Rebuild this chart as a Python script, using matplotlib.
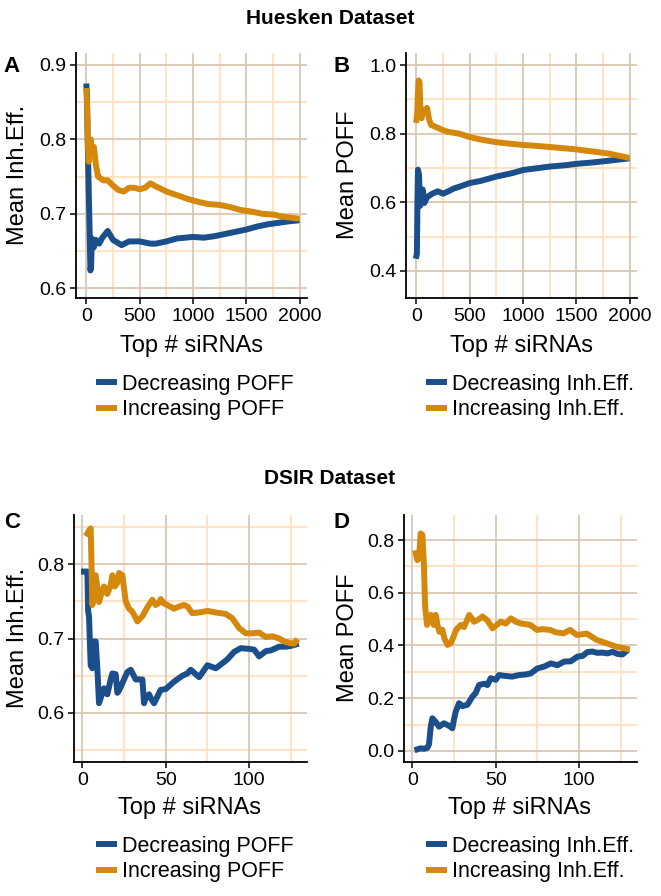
import numpy as np
import matplotlib.pyplot as plt

plt.rcParams['font.family'] = ['Liberation Sans', 'DejaVu Sans']

# cores
azul = '#1a4f8b'
laranja = '#d4880c'
grade_maior = '#d9c7b2'
grade_menor = '#ffe3c2'

# Painel A - Huesken, Mean Inh.Eff.
xa_dec = [1, 5, 15, 30, 38, 45, 50, 70, 90, 120, 150, 200, 250, 330, 400, 500, 600, 650, 750, 850,
          1000, 1100, 1200, 1300, 1400, 1500, 1600, 1700, 1800, 1900, 1968]
ya_dec = [0.871, 0.86, 0.78, 0.68, 0.624, 0.63, 0.667, 0.655, 0.665, 0.66, 0.668, 0.677, 0.665, 0.658,
          0.663, 0.663, 0.660, 0.660, 0.663, 0.667, 0.669, 0.668, 0.670, 0.673, 0.676, 0.679, 0.683,
          0.686, 0.688, 0.690, 0.691]
xa_inc = [1, 8, 15, 22, 30, 40, 55, 70, 90, 110, 130, 160, 200, 250, 300, 350, 400, 450, 500, 550,
          600, 650, 750, 850, 950, 1050, 1150, 1250, 1350, 1450, 1550, 1650, 1750, 1850, 1968]
ya_inc = [0.865, 0.84, 0.79, 0.77, 0.79, 0.80, 0.785, 0.79, 0.765, 0.75, 0.748, 0.745, 0.745, 0.738,
          0.732, 0.73, 0.735, 0.735, 0.733, 0.735, 0.741, 0.737, 0.73, 0.725, 0.72, 0.716, 0.713,
          0.712, 0.709, 0.705, 0.703, 0.700, 0.699, 0.696, 0.694]

# Painel B - Huesken, Mean POFF
xb_dec = [1, 5, 10, 15, 25, 35, 45, 60, 75, 100, 150, 200, 250, 300, 350, 400, 500, 600, 750, 900,
          1000, 1100, 1250, 1400, 1500, 1650, 1800, 1968]
yb_dec = [0.444, 0.45, 0.60, 0.695, 0.68, 0.59, 0.63, 0.637, 0.598, 0.615, 0.625, 0.632, 0.625, 0.632,
          0.64, 0.645, 0.656, 0.662, 0.675, 0.685, 0.694, 0.698, 0.704, 0.708, 0.712, 0.716, 0.721, 0.727]
xb_inc = [1, 8, 15, 22, 30, 40, 50, 60, 80, 100, 120, 140, 180, 250, 300, 400, 500, 600, 750, 900,
          1000, 1100, 1250, 1400, 1500, 1650, 1800, 1968]
yb_inc = [0.84, 0.86, 0.92, 0.955, 0.95, 0.85, 0.845, 0.87, 0.86, 0.875, 0.84, 0.825, 0.82, 0.81,
          0.805, 0.80, 0.79, 0.783, 0.775, 0.77, 0.767, 0.765, 0.761, 0.757, 0.754, 0.748, 0.742, 0.731]

# Painel C - DSIR, Mean Inh.Eff.
xc_dec = [1, 2, 3, 3.5, 4, 5, 6, 7, 8, 9, 10, 11, 13, 15, 17, 18, 20, 21, 22, 25, 27, 29, 32, 36,
          37, 38, 40, 41, 43, 45, 47, 50, 55, 60, 63, 65, 70, 75, 80, 83, 87, 91, 95, 100, 103, 106,
          110, 113, 118, 122, 125, 128]
yc_dec = [0.79, 0.79, 0.79, 0.736, 0.73, 0.664, 0.66, 0.696, 0.696, 0.66, 0.613, 0.62, 0.633, 0.625,
          0.645, 0.653, 0.652, 0.627, 0.63, 0.645, 0.655, 0.658, 0.645, 0.645, 0.613, 0.62, 0.625,
          0.62, 0.613, 0.622, 0.631, 0.632, 0.642, 0.65, 0.653, 0.658, 0.648, 0.664, 0.66, 0.665,
          0.672, 0.682, 0.687, 0.686, 0.685, 0.676, 0.683, 0.684, 0.689, 0.689, 0.69, 0.692]
xc_inc = [3, 4, 5, 5.5, 6, 8, 10, 12, 13, 15, 17, 18, 19.5, 21, 22, 24, 26, 28, 30, 33, 36, 39, 42,
          44, 46, 47, 49, 51, 55, 58, 61, 63, 66, 70, 75, 80, 86, 90, 94, 98, 102, 106, 110, 114,
          118, 121, 124, 127, 128]
yc_inc = [0.841, 0.845, 0.848, 0.80, 0.745, 0.785, 0.749, 0.765, 0.77, 0.76, 0.772, 0.785, 0.77,
          0.775, 0.788, 0.785, 0.75, 0.74, 0.736, 0.723, 0.73, 0.742, 0.752, 0.745, 0.748, 0.753,
          0.747, 0.745, 0.74, 0.743, 0.745, 0.743, 0.734, 0.735, 0.737, 0.735, 0.733, 0.727, 0.714,
          0.707, 0.707, 0.708, 0.702, 0.703, 0.700, 0.696, 0.694, 0.693, 0.696]

# Painel D - DSIR, Mean POFF
xd_dec = [3, 5, 7, 9, 10, 11, 12, 14, 16, 19, 22, 24, 25, 26, 28, 30, 33, 36, 38, 40, 43, 45, 47,
          50, 52, 55, 58, 60, 64, 68, 71, 75, 79, 83, 87, 91, 95, 99, 102, 105, 108, 111, 114, 117,
          120, 123, 126, 128]
yd_dec = [0.006, 0.01, 0.008, 0.012, 0.025, 0.09, 0.124, 0.11, 0.092, 0.105, 0.095, 0.086, 0.12,
          0.149, 0.181, 0.17, 0.175, 0.206, 0.22, 0.25, 0.255, 0.25, 0.276, 0.27, 0.288, 0.285,
          0.283, 0.282, 0.288, 0.29, 0.294, 0.313, 0.32, 0.332, 0.325, 0.339, 0.34, 0.358, 0.36,
          0.375, 0.377, 0.372, 0.373, 0.37, 0.376, 0.368, 0.366, 0.377]
xd_inc = [2, 3, 4, 5, 6, 7, 7.6, 8.8, 10, 11.2, 12.8, 14, 15, 16.2, 18, 19.2, 21.1, 23.2, 24.5, 26.2,
          29.1, 31, 34.1, 37, 40, 42.1, 45, 48.1, 51, 53, 56, 59.1, 62, 64.7, 70.7, 74.7, 78, 82.6,
          86, 90.6, 94.6, 98.6, 104.6, 110.6, 116.6, 122.6, 128.6]
yd_inc = [0.75, 0.724, 0.73, 0.825, 0.82, 0.70, 0.554, 0.478, 0.50, 0.516, 0.478, 0.516, 0.48, 0.452,
          0.46, 0.427, 0.402, 0.41, 0.43, 0.459, 0.478, 0.47, 0.516, 0.49, 0.50, 0.51, 0.495, 0.465,
          0.48, 0.49, 0.483, 0.503, 0.49, 0.484, 0.478, 0.459, 0.462, 0.459, 0.45, 0.446, 0.459,
          0.44, 0.445, 0.421, 0.408, 0.395, 0.387]

W, H = 661, 896
fig = plt.figure(figsize=(W / 100, H / 100), dpi=100)


def eixo(l, t, r, b):
    return fig.add_axes([l / W, 1 - b / H, (r - l) / W, (b - t) / H])


def painel(ax, xs, ys, xlim, ylim, yticks, yminor, xticks, xminor, xlabels):
    for v in xminor:
        ax.axvline(v, color=grade_menor, lw=1.5, zorder=0)
    for v in yminor:
        ax.axhline(v, color=grade_menor, lw=1.5, zorder=0)
    for v in xticks:
        ax.axvline(v, color=grade_maior, lw=1.3, zorder=0.5)
    for v in yticks:
        ax.axhline(v, color=grade_maior, lw=1.3, zorder=0.5)
    l1, = ax.plot(xs[0], ys[0], color=azul, lw=4.3, solid_joinstyle='round', zorder=2)
    l2, = ax.plot(xs[1], ys[1], color=laranja, lw=4.3, solid_joinstyle='round', zorder=3)
    ax.set_xlim(*xlim)
    ax.set_ylim(*ylim)
    ax.set_xticks(xticks)
    ax.set_xticklabels(xlabels)
    ax.set_yticks(yticks)
    ax.set_yticklabels(['%.1f' % v for v in yticks])
    for s in ['top', 'right']:
        ax.spines[s].set_visible(False)
    for s in ['left', 'bottom']:
        ax.spines[s].set_linewidth(1.3)
    ax.tick_params(labelsize=14, length=4, width=1.1, colors='black', pad=3)
    return l1, l2


axA = eixo(76, 53, 307, 298)
axB = eixo(406, 53, 637, 298)
axC = eixo(74, 515, 307, 762)
axD = eixo(404, 515, 637, 762)

hA = painel(axA, [xa_dec, xa_inc], [ya_dec, ya_inc], (-97, 2067), (0.587, 0.916),
            [0.6, 0.7, 0.8, 0.9], [0.65, 0.75, 0.85], [0, 500, 1000, 1500, 2000],
            [250, 750, 1250, 1750], ['0', '500', '1000', '1500', '2000'])
hB = painel(axB, [xb_dec, xb_inc], [yb_dec, yb_inc], (-97, 2067), (0.321, 1.035),
            [0.4, 0.6, 0.8, 1.0], [0.5, 0.7, 0.9], [0, 500, 1000, 1500, 2000],
            [250, 750, 1250, 1750], ['0', '500', '1000', '1500', '2000'])
hC = painel(axC, [xc_dec, xc_inc], [yc_dec, yc_inc], (-5, 134.7), (0.534, 0.866),
            [0.6, 0.7, 0.8], [0.55, 0.65, 0.75, 0.85], [0, 50, 100],
            [25, 75, 125], ['0', '50', '100'])
hD = painel(axD, [xd_dec, xd_inc], [yd_dec, yd_inc], (-5, 134.7), (-0.042, 0.895),
            [0.0, 0.2, 0.4, 0.6, 0.8], [0.1, 0.3, 0.5, 0.7], [0, 50, 100],
            [25, 75, 125], ['0', '50', '100'])

# titulos
fig.text(330 / W, 1 - 18 / H, 'Huesken Dataset', fontsize=15, fontweight='bold',
         ha='center', va='center')
fig.text(330 / W, 1 - 478 / H, 'DSIR Dataset', fontsize=15, fontweight='bold',
         ha='center', va='center')

for letra, x, y in [('A', 12, 66), ('B', 342, 66), ('C', 12, 522), ('D', 342, 522)]:
    fig.text(x / W, 1 - y / H, letra, fontsize=16, fontweight='bold', ha='center', va='center')

ylabels = [('Mean Inh.Eff.', 18, 175), ('Mean POFF', 348, 175),
           ('Mean Inh.Eff.', 18, 638), ('Mean POFF', 348, 638)]
for txt, x, y in ylabels:
    fig.text(x / W, 1 - y / H, txt, fontsize=17, rotation=90, ha='center', va='center')

for x, y in [(191, 346), (521, 346), (190, 808), (520, 808)]:
    fig.text(x / W, 1 - y / H, 'Top # siRNAs', fontsize=17, ha='center', va='center')

legendas = [(axA, hA, ['Decreasing POFF', 'Increasing POFF'], 99, 374),
            (axB, hB, ['Decreasing Inh.Eff.', 'Increasing Inh.Eff.'], 429, 374),
            (axC, hC, ['Decreasing POFF', 'Increasing POFF'], 99, 836),
            (axD, hD, ['Decreasing Inh.Eff.', 'Increasing Inh.Eff.'], 429, 836)]
for ax, h, labs, x, y in legendas:
    ax.legend(h, labs, loc='upper left', bbox_to_anchor=(x / W, 1 - y / H),
              bbox_transform=fig.transFigure, frameon=False, fontsize=15.5,
              handlelength=0.7, handletextpad=0.35, labelspacing=0.2, borderpad=0,
              borderaxespad=0)

fig.savefig('out.png', dpi=100)
